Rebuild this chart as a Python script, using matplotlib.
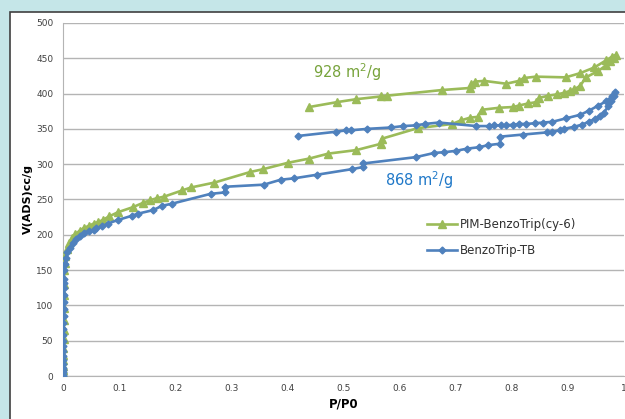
import numpy as np
import matplotlib
matplotlib.use("Agg")
import matplotlib.pyplot as plt
from matplotlib.patches import Rectangle

# PIM-BenzoTrip(cy-6): adsorption then desorption branch
green_x = [0.0002, 0.0003, 0.0004, 0.0005, 0.0006, 0.0007, 0.0008, 0.0009, 0.001, 0.001,
           0.0012, 0.0014, 0.0016, 0.002, 0.003, 0.004, 0.007, 0.011, 0.016, 0.022,
           0.03, 0.038, 0.047, 0.055, 0.0625, 0.071, 0.082, 0.098, 0.124, 0.142,
           0.155, 0.168, 0.18, 0.213, 0.228, 0.27, 0.334, 0.357, 0.401, 0.439,
           0.473, 0.523, 0.567, 0.568, 0.632, 0.694, 0.709, 0.726, 0.739, 0.746,
           0.778, 0.803, 0.812, 0.829, 0.844, 0.849, 0.865, 0.881, 0.893, 0.904,
           0.911, 0.922, 0.932, 0.954, 0.968, 0.975, 0.982, 0.986,
           0.978, 0.968, 0.947, 0.922, 0.896, 0.843, 0.821, 0.813, 0.79, 0.751,
           0.734, 0.728, 0.726, 0.675, 0.577, 0.567, 0.522, 0.489, 0.439]
green_y = [0, 3, 8, 14, 22, 30, 40, 52, 65, 80,
           97, 115, 130, 150, 160, 170, 180, 188, 195, 201,
           206, 210, 213, 216, 218, 221, 226, 232, 239, 245,
           249, 252, 254, 263, 267, 274, 289, 293, 302, 308,
           315, 320, 329, 336, 351, 357, 362, 366, 367, 377,
           380, 381, 383, 386, 388, 394, 397, 399, 401, 404,
           406, 411, 423, 432, 440, 446, 451, 455,
           452, 447, 437, 429, 423, 424, 422, 418, 414, 418,
           417, 413, 408, 405, 397, 396, 392, 388, 381]

# BenzoTrip-TB: adsorption then desorption branch
blue_x = [0.0002, 0.0002, 0.0003, 0.0003, 0.0004, 0.0004, 0.0005, 0.0005, 0.0006, 0.0006,
          0.0007, 0.0007, 0.0008, 0.0008, 0.0009, 0.0009, 0.001, 0.001, 0.0011, 0.0012,
          0.0013, 0.002, 0.003, 0.005, 0.008, 0.012, 0.017, 0.023, 0.03, 0.038,
          0.047, 0.055, 0.059, 0.07, 0.08, 0.098, 0.123, 0.134, 0.161, 0.176,
          0.194, 0.263, 0.288, 0.288, 0.358, 0.388, 0.412, 0.452, 0.515, 0.535,
          0.535, 0.629, 0.662, 0.68, 0.701, 0.72, 0.741, 0.758, 0.779, 0.779,
          0.82, 0.862, 0.872, 0.886, 0.893, 0.911, 0.925, 0.937, 0.948, 0.957,
          0.964, 0.972, 0.976, 0.982, 0.984,
          0.978, 0.968, 0.954, 0.938, 0.922, 0.897, 0.872, 0.856, 0.841, 0.826,
          0.812, 0.803, 0.79, 0.78, 0.769, 0.759, 0.737, 0.67, 0.645, 0.629,
          0.606, 0.585, 0.542, 0.513, 0.505, 0.487, 0.419]
blue_y = [0, 2, 5, 8, 12, 17, 22, 28, 35, 42,
          50, 58, 67, 75, 85, 95, 105, 115, 125, 132,
          138, 150, 158, 167, 175, 182, 188, 194, 198, 202,
          205, 207, 209, 212, 216, 221, 227, 230, 235, 241,
          244, 258, 260, 268, 271, 278, 280, 285, 293, 296,
          301, 310, 316, 317, 319, 322, 324, 327, 329, 339,
          342, 345, 346, 348, 350, 353, 356, 360, 364, 368,
          373, 382, 389, 396, 402,
          396, 389, 383, 376, 370, 365, 360, 359, 358, 357,
          357, 356, 355, 355, 355, 354, 354, 359, 357, 355,
          354, 352, 350, 348, 348, 346, 340]

x_ticks = [0, 0.1, 0.2, 0.3, 0.4, 0.5, 0.6, 0.7, 0.8, 0.9, 1]
y_ticks = [0, 50, 100, 150, 200, 250, 300, 350, 400, 450, 500]

fig = plt.figure(figsize=(6.25, 4.19), dpi=100)
fig.patch.set_facecolor("#c5e6e8")
# white chart panel with a dark border, behind the axes
fig.patches.append(Rectangle((10 / 625, -0.05), 1.0, 1 - 12 / 419 + 0.05,
                             transform=fig.transFigure, facecolor="white",
                             edgecolor="#404040", lw=1.2, zorder=-5))

ax = fig.add_axes([63 / 625, 1 - 376 / 419, 561 / 625, 353 / 419])
ax.set_facecolor("none")

ax.plot(green_x, green_y, color="#9bbb59", lw=1.9, marker="^", ms=5.5,
        mec="#9bbb59", label="PIM-BenzoTrip(cy-6)", zorder=3)
ax.plot(blue_x, blue_y, color="#4f81bd", lw=1.9, marker="D", ms=3.5,
        mec="#4f81bd", label="BenzoTrip-TB", zorder=4)

ax.set_xlim(0, 1)
ax.set_ylim(0, 500)
ax.set_xticks(x_ticks)
ax.set_xticklabels(["0" if t == 0 else ("1" if t == 1 else f"{t:g}") for t in x_ticks])
ax.set_yticks(y_ticks)
ax.tick_params(length=0, labelsize=6.5, labelcolor="#404040")
ax.tick_params(axis="x", pad=6)
ax.tick_params(axis="y", pad=7)
ax.grid(axis="y", color="#b4b4b4", lw=1)
ax.set_axisbelow(True)
for s in ["top", "right"]:
    ax.spines[s].set_visible(False)
ax.spines["left"].set_color("#b4b4b4")
ax.spines["bottom"].set_color("#b4b4b4")

ax.set_xlabel("P/P0", fontsize=8.5, fontweight="bold", labelpad=3)
ax.set_ylabel("V(ADS)cc/g", fontsize=8, fontweight="bold", labelpad=2)

ax.text(0.506, 430, "928 m$^2$/g", color="#77a33b", fontsize=10.5, ha="center", va="center")
ax.text(0.636, 278, "868 m$^2$/g", color="#1f78c8", fontsize=10.5, ha="center", va="center")

ax.legend(loc="upper left", bbox_to_anchor=(0.64, 0.46), frameon=False,
          fontsize=8.5, handlelength=2.6, labelspacing=1.05, handletextpad=0.2,
          labelcolor="#303030", borderaxespad=0)

fig.savefig("out.png", dpi=100, facecolor=fig.get_facecolor())
